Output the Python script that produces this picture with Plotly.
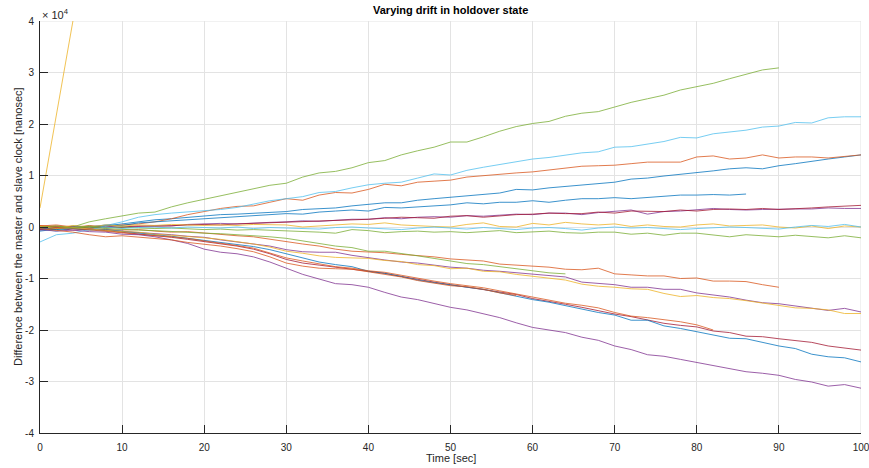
import plotly.graph_objects as go

# Time axis shared by all runs [sec]
time_s = list(range(0, 101, 2))

# Master/slave clock difference per run, in units of 1e4 ns
green_top = [-0.03, -0.05, 0.0, 0.1, 0.16, 0.21, 0.27, 0.29, 0.39, 0.47,
             0.54, 0.61, 0.67, 0.75, 0.81, 0.85, 0.97, 1.05, 1.08, 1.15,
             1.25, 1.29, 1.40, 1.48, 1.55, 1.65, 1.65, 1.75, 1.86, 1.95,
             2.01, 2.05, 2.15, 2.21, 2.24, 2.33, 2.42, 2.49, 2.56, 2.66,
             2.72, 2.79, 2.88, 2.97, 3.05, 3.09]
lightblue_top = [-0.29, -0.15, -0.12, -0.05, 0.03, 0.10, 0.19, 0.24, 0.27, 0.29,
                 0.31, 0.34, 0.38, 0.45, 0.51, 0.55, 0.59, 0.67, 0.69, 0.76,
                 0.82, 0.85, 0.87, 0.95, 1.03, 1.01, 1.10, 1.16, 1.21, 1.27,
                 1.32, 1.35, 1.39, 1.44, 1.46, 1.55, 1.56, 1.61, 1.66, 1.74,
                 1.73, 1.81, 1.84, 1.88, 1.94, 1.96, 2.03, 2.02, 2.12, 2.14, 2.14]
orange_top = [0.0, 0.02, -0.01, 0.03, 0.0, 0.04, 0.06, 0.10, 0.16, 0.24,
              0.30, 0.36, 0.40, 0.41, 0.48, 0.55, 0.52, 0.62, 0.67, 0.66,
              0.73, 0.83, 0.80, 0.87, 0.89, 0.91, 0.97, 1.00, 1.03, 1.05,
              1.07, 1.11, 1.14, 1.18, 1.19, 1.20, 1.23, 1.26, 1.26, 1.26,
              1.36, 1.38, 1.32, 1.34, 1.40, 1.34, 1.36, 1.36, 1.34, 1.37, 1.40]
blue_top = [-0.05, -0.02, 0.0, -0.02, 0.02, 0.06, 0.10, 0.14, 0.16, 0.19,
            0.22, 0.24, 0.25, 0.27, 0.29, 0.30, 0.34, 0.36, 0.37, 0.41,
            0.44, 0.47, 0.47, 0.52, 0.55, 0.58, 0.60, 0.64, 0.66, 0.73,
            0.72, 0.76, 0.79, 0.81, 0.85, 0.87, 0.93, 0.95, 0.99, 1.02,
            1.05, 1.09, 1.13, 1.15, 1.13, 1.19, 1.23, 1.28, 1.32, 1.36, 1.40]
blue_short = [-0.08, -0.04, 0.02, 0.0, 0.04, 0.03, 0.08, 0.10, 0.13, 0.14,
              0.16, 0.18, 0.20, 0.22, 0.25, 0.26, 0.25, 0.29, 0.31, 0.33,
              0.31, 0.38, 0.37, 0.39, 0.41, 0.43, 0.47, 0.45, 0.48, 0.48,
              0.51, 0.48, 0.52, 0.55, 0.55, 0.57, 0.55, 0.57, 0.60, 0.62,
              0.62, 0.63, 0.62, 0.64]
darkred_mid = [-0.02, 0.0, -0.03, 0.01, -0.02, 0.0, 0.02, 0.01, 0.03, 0.04,
               0.05, 0.04, 0.06, 0.07, 0.08, 0.09, 0.11, 0.12, 0.12, 0.13,
               0.15, 0.17, 0.19, 0.18, 0.17, 0.21, 0.22, 0.19, 0.22, 0.24,
               0.25, 0.27, 0.26, 0.26, 0.29, 0.27, 0.31, 0.30, 0.30, 0.33,
               0.31, 0.34, 0.35, 0.34, 0.36, 0.34, 0.35, 0.37, 0.39, 0.41, 0.42]
purple_mid = [-0.06, -0.03, 0.0, -0.02, 0.02, -0.01, 0.01, 0.03, 0.02, 0.05,
              0.06, 0.07, 0.06, 0.08, 0.09, 0.10, 0.12, 0.11, 0.13, 0.15,
              0.15, 0.18, 0.16, 0.19, 0.20, 0.19, 0.22, 0.21, 0.23, 0.25,
              0.24, 0.27, 0.27, 0.24, 0.28, 0.30, 0.33, 0.25, 0.30, 0.31,
              0.33, 0.36, 0.34, 0.33, 0.34, 0.35, 0.35, 0.35, 0.37, 0.36, 0.36]
yellow_mid = [0.02, -0.02, 0.03, 0.0, 0.04, 0.02, 0.04, 0.03, 0.05, 0.04,
              0.03, 0.04, 0.03, 0.05, 0.04, 0.04, 0.0, 0.02, 0.04, 0.06,
              0.05, 0.08, 0.04, 0.02, 0.01, 0.0, 0.05, 0.08, 0.01, 0.0,
              0.07, 0.04, 0.09, 0.06, 0.04, 0.06, 0.01, 0.04, 0.01, 0.0,
              0.04, 0.06, 0.02, 0.03, 0.04, 0.0, -0.02, 0.02, -0.03, 0.02, 0.0]
lightblue_mid = [-0.04, -0.08, -0.02, -0.05, 0.0, -0.03, -0.01, 0.0, -0.02, 0.0,
                 -0.01, -0.02, 0.0, -0.03, -0.01, -0.02, -0.03, -0.04, -0.01, 0.0,
                 -0.02, -0.04, -0.05, -0.02, 0.0, -0.02, -0.04, -0.01, -0.03, -0.05,
                 -0.02, -0.01, -0.03, -0.06, -0.02, 0.0, -0.02, -0.01, -0.03, -0.05,
                 -0.03, -0.01, 0.0, -0.01, -0.02, -0.04, 0.0, 0.03, 0.01, 0.05, 0.0]
green_mid = [-0.03, 0.01, -0.02, 0.02, -0.01, 0.0, -0.02, -0.03, -0.02, -0.04,
             -0.05, -0.04, -0.06, -0.05, -0.06, -0.07, -0.08, -0.10, -0.12, -0.05,
             -0.07, -0.11, -0.09, -0.08, -0.10, -0.09, -0.11, -0.09, -0.07, -0.11,
             -0.10, -0.08, -0.11, -0.12, -0.10, -0.10, -0.14, -0.12, -0.16, -0.12,
             -0.12, -0.15, -0.19, -0.15, -0.17, -0.19, -0.16, -0.18, -0.21, -0.17, -0.21]
green_short = [0.0, 0.02, -0.02, 0.0, -0.03, -0.05, -0.06, -0.07, -0.09, -0.11,
               -0.12, -0.13, -0.15, -0.16, -0.19, -0.22, -0.27, -0.31, -0.37, -0.40,
               -0.47, -0.47, -0.51, -0.56, -0.61, -0.66, -0.71, -0.73, -0.77, -0.81,
               -0.84, -0.89, -0.91]
orange_short = [0.02, 0.04, 0.0, -0.03, -0.05, -0.06, -0.05, -0.08, -0.10, -0.09,
                -0.12, -0.15, -0.17, -0.19, -0.24, -0.29, -0.33, -0.37, -0.43, -0.47,
                -0.48, -0.50, -0.53, -0.55, -0.58, -0.62, -0.64, -0.66, -0.72, -0.74,
                -0.76, -0.78, -0.82, -0.83, -0.80, -0.91, -0.93, -0.95, -0.95, -1.00,
                -0.99, -1.05, -1.05, -1.06, -1.12, -1.17]
purple_low_mid = [-0.03, 0.0, -0.02, -0.04, -0.06, -0.08, -0.10, -0.12, -0.15, -0.18,
                  -0.20, -0.25, -0.29, -0.32, -0.37, -0.44, -0.48, -0.49, -0.49, -0.55,
                  -0.60, -0.64, -0.68, -0.70, -0.74, -0.78, -0.80, -0.84, -0.86, -0.89,
                  -0.92, -0.95, -0.97, -1.07, -1.09, -1.12, -1.17, -1.17, -1.21, -1.21,
                  -1.28, -1.32, -1.36, -1.42, -1.47, -1.49, -1.53, -1.57, -1.62, -1.58, -1.65]
yellow_low_mid = [0.0, -0.03, -0.01, -0.04, -0.07, -0.09, -0.10, -0.14, -0.16, -0.18,
                  -0.21, -0.24, -0.28, -0.33, -0.39, -0.47, -0.51, -0.56, -0.59, -0.60,
                  -0.61, -0.65, -0.67, -0.73, -0.75, -0.81, -0.80, -0.86, -0.87, -0.92,
                  -0.96, -1.00, -1.03, -1.11, -1.15, -1.17, -1.20, -1.21, -1.29, -1.35,
                  -1.33, -1.37, -1.39, -1.43, -1.48, -1.52, -1.57, -1.58, -1.61, -1.68, -1.68]
blue_low = [-0.02, -0.05, -0.03, -0.06, -0.05, -0.08, -0.11, -0.14, -0.18, -0.22,
            -0.26, -0.29, -0.33, -0.38, -0.44, -0.52, -0.59, -0.68, -0.73, -0.77,
            -0.86, -0.90, -0.96, -1.03, -1.08, -1.13, -1.17, -1.21, -1.28, -1.34,
            -1.41, -1.46, -1.53, -1.60, -1.66, -1.71, -1.81, -1.81, -1.92, -1.97,
            -2.03, -2.10, -2.16, -2.17, -2.24, -2.31, -2.36, -2.47, -2.52, -2.54, -2.62]
darkred_low = [-0.05, -0.02, -0.06, -0.04, -0.07, -0.10, -0.13, -0.16, -0.20, -0.24,
               -0.28, -0.32, -0.37, -0.43, -0.52, -0.63, -0.70, -0.74, -0.78, -0.82,
               -0.86, -0.90, -0.96, -1.02, -1.07, -1.12, -1.17, -1.22, -1.27, -1.31,
               -1.39, -1.44, -1.50, -1.56, -1.63, -1.69, -1.74, -1.80, -1.87, -1.91,
               -1.94, -2.02, -2.05, -2.12, -2.13, -2.17, -2.20, -2.24, -2.31, -2.35, -2.39]
orange_low = [0.03, 0.0, -0.03, -0.06, -0.08, -0.11, -0.14, -0.17, -0.19, -0.22,
              -0.27, -0.31, -0.36, -0.41, -0.50, -0.60, -0.66, -0.72, -0.77, -0.80,
              -0.85, -0.88, -0.94, -1.00, -1.05, -1.10, -1.14, -1.18, -1.24, -1.30,
              -1.36, -1.42, -1.48, -1.52, -1.57, -1.66, -1.73, -1.76, -1.80, -1.84,
              -1.90, -2.00]
orange_dip = [-0.03, -0.06, -0.10, -0.15, -0.19, -0.17, -0.20, -0.22, -0.25, -0.30,
              -0.33, -0.37, -0.42, -0.48, -0.58, -0.70, -0.76, -0.80, -0.81, -0.82,
              -0.87, -0.92, -0.97, -1.04, -1.09, -1.14, -1.16, -1.21, -1.28, -1.33]
purple_low = [-0.05, -0.08, -0.06, -0.09, -0.10, -0.14, -0.15, -0.19, -0.25, -0.32,
              -0.43, -0.49, -0.52, -0.58, -0.68, -0.80, -0.92, -1.01, -1.10, -1.12,
              -1.17, -1.27, -1.36, -1.41, -1.49, -1.56, -1.61, -1.68, -1.76, -1.86,
              -1.95, -2.00, -2.05, -2.14, -2.20, -2.31, -2.38, -2.48, -2.51, -2.57,
              -2.63, -2.68, -2.74, -2.81, -2.84, -2.88, -2.96, -3.01, -3.09, -3.06, -3.13]
yellow_steep = [0.37, 2.2, 4.0, 5.8]

# y tick positions (in 1e4 ns) and their labels
y_ticks = [-4, -3, -2, -1, 0, 1, 2, 3, 4]
y_tick_text = ["-4", "-3", "-2", "-1", "0", "1", "2", "3", "4"]
x_ticks = list(range(0, 101, 10))
x_max = 100
y_max = 4

BLUE, ORANGE, YELLOW, PURPLE = "#0072BD", "#D95319", "#EDB120", "#7E2F8E"
GREEN, LIGHTBLUE, DARKRED = "#77AC30", "#4DBEEE", "#A2142F"

runs = [
    (blue_top, BLUE), (orange_top, ORANGE), (yellow_steep, YELLOW), (purple_mid, PURPLE),
    (green_top, GREEN), (lightblue_top, LIGHTBLUE), (darkred_mid, DARKRED),
    (blue_short, BLUE), (orange_short, ORANGE), (yellow_mid, YELLOW), (purple_low_mid, PURPLE),
    (green_mid, GREEN), (lightblue_mid, LIGHTBLUE), (darkred_low, DARKRED),
    (blue_low, BLUE), (orange_low, ORANGE), (yellow_low_mid, YELLOW), (purple_low, PURPLE),
    (green_short, GREEN), (orange_dip, ORANGE),
]

fig = go.Figure()
for values, color in runs:
    fig.add_trace(go.Scatter(
        x=time_s[:len(values)], y=values, mode="lines", opacity=0.85,
        line=dict(color=color, width=0.9), showlegend=False, hoverinfo="skip",
    ))

AX = "#262626"
GRID = "#e3e3e3"
FAMILY = "Liberation Sans, Arial, sans-serif"
font = dict(family=FAMILY, size=10, color=AX)

# light frame on the open (right and top) sides of the axes box
fig.add_shape(type="line", xref="x", yref="paper", x0=x_max, x1=x_max, y0=0, y1=1,
              line=dict(color=GRID, width=1), layer="below")
fig.add_shape(type="line", xref="paper", yref="y", x0=0, x1=1, y0=y_max, y1=y_max,
              line=dict(color=GRID, width=1), layer="below")

fig.update_layout(
    width=869, height=468,
    margin=dict(l=40, r=8, t=21, b=35),
    paper_bgcolor="white", plot_bgcolor="white",
    font=font,
    xaxis=dict(
        range=[0, x_max], tickvals=x_ticks, ticks="inside", ticklen=8, tickcolor=AX,
        showline=True, linecolor=AX, linewidth=1, mirror=False,
        showgrid=True, gridcolor=GRID, gridwidth=1, zeroline=False,
        tickfont=font, automargin=False, ticklabelposition="outside",
        ticklabelstandoff=5, ticklabeloverflow="allow",
    ),
    yaxis=dict(
        range=[-y_max, y_max], tickvals=y_ticks, ticktext=y_tick_text, ticks="inside",
        ticklen=8, tickcolor=AX, showline=True, linecolor=AX, linewidth=1,
        mirror=False, showgrid=True, gridcolor=GRID, gridwidth=1, zeroline=False,
        tickfont=font, automargin=False, ticklabelposition="outside",
        ticklabelstandoff=3, ticklabeloverflow="allow",
    ),
    annotations=[
        dict(text="<b>Varying drift in holdover state</b>", xref="paper", yref="paper",
             x=0.5, y=1, yshift=11, yanchor="middle", showarrow=False,
             font=dict(family=FAMILY, size=11, color="black")),
        dict(text="Time [sec]", xref="paper", yref="paper", x=0.5, y=0, yshift=-25,
             yanchor="middle", showarrow=False,
             font=dict(family=FAMILY, size=11, color=AX)),
        dict(text="Difference between the master and slave clock [nanosec]",
             xref="paper", yref="paper", x=0, y=0.5, xshift=-22, xanchor="center",
             yanchor="middle", textangle=-90, showarrow=False,
             font=dict(family=FAMILY, size=11, color=AX)),
        dict(text="× 10<sup>4</sup>", xref="paper", yref="paper", x=0, y=1,
             xanchor="left", yanchor="bottom", yshift=-2, showarrow=False,
             font=dict(family=FAMILY, size=11, color=AX)),
    ],
)

fig.write_html("out.html")
